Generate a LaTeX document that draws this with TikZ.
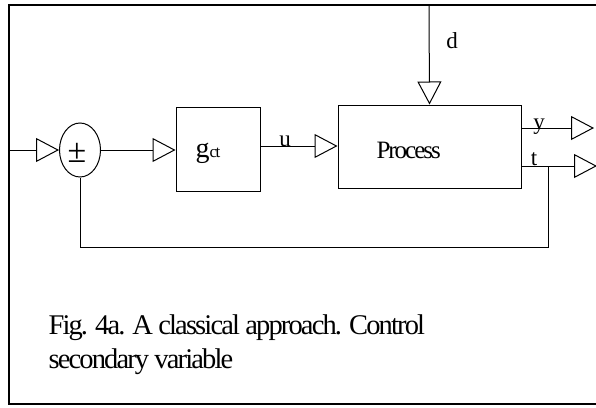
\documentclass[tikz,border=0pt]{standalone}
\usepackage{fontspec}
\setmainfont{Liberation Serif}
\usetikzlibrary{arrows.meta,shapes.geometric}
\begin{document}
\begin{tikzpicture}[x=1pt,y=-1pt,
  line width=1pt,
  tri/.style={-{Triangle[open,length=23pt,width=24pt,line width=1pt]}},
  blk/.style={draw,line width=1pt,inner sep=0pt},
  lbl/.style={font=\fontsize{23}{24}\selectfont,inner sep=0pt},
  captext/.style={anchor=base west,inner sep=0pt,font=\fontsize{28.5}{28.5}\selectfont\addfontfeature{LetterSpace=-6.5}}]
\useasboundingbox (0,0) rectangle (596,407);
% frame
\draw[line width=1.4pt] (596,5) -- (9,5) -- (9,404) -- (596,404);
% blocks
\node[blk,ellipse,minimum width=41pt,minimum height=54pt] (sum) at (80,150) {};
\node[font=\fontsize{34}{34}\selectfont,inner sep=0pt] (pm) at (77,153) {±};
\node[blk,minimum width=84pt,minimum height=84pt] (gct) at (218,149) {};
\node[font=\fontsize{28}{28}\selectfont,inner sep=0pt,anchor=base west] (gtxt) at (195,157) {g\raisebox{-0.02em}{\fontsize{17}{17}\selectfont\addfontfeature{LetterSpace=-8}ct}};
\node[blk,minimum width=183pt,minimum height=83pt] (proc) at (429.5,146.5) {};
\node[font=\fontsize{25}{25}\selectfont\addfontfeature{LetterSpace=-8},inner sep=0pt,anchor=base west] (ptxt) at (376,158) {Process};
% coordinates
\coordinate (in) at (9,150);
\coordinate (dtop) at (429,5);
\coordinate (yout) at (594,128);
\coordinate (tout) at (597,166);
\coordinate (fb) at (548,166);
\coordinate (fbl) at (548,247);
\coordinate (fbr) at (80,247);
% connectors
\draw[tri] (in) -- (sum.west);
\draw[tri] (sum.east) -- (sum.east -| gct.west);
\draw[tri] (gct.east |- 146,146) -- (proc.west |- 146,146);
\draw[tri] (dtop) -- (proc.north);
\draw[tri] (proc.east |- yout) -- (yout);
\draw[tri] (proc.east |- tout) -- (tout);
\draw (fb) -- (fbl) -- (fbr) -- (sum.south);
% labels
\node[lbl,anchor=base] (ul) at (285,146) {u};
\node[lbl,anchor=base] (dl) at (452,48) {d};
\node[lbl,anchor=base] (yl) at (539,129) {y};
\node[lbl,anchor=base] (tl) at (534,165) {t};
% caption
\node[captext] (c1) at (48,334) {Fig. 4a. A classical approach. Control};
\node[captext] (c2) at (48,368) {secondary variable};
\end{tikzpicture}
\end{document}
